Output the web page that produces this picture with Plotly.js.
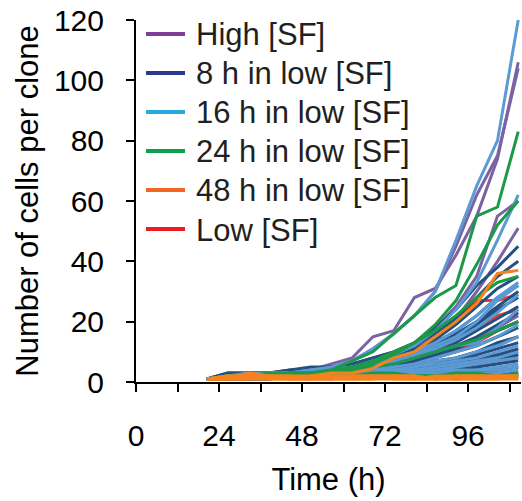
<!DOCTYPE html>
<html>
<head>
<meta charset="utf-8">
<script src="https://cdn.plot.ly/plotly-3.0.1.min.js"></script>
<style>html,body{margin:0;padding:0;background:#fff;}#chart{width:522px;height:501px;}</style>
</head>
<body>
<div id="chart"></div>
<script>
// Time points (h)
const times = [20.5, 26.5, 32.5, 38.5, 44.5, 50.5, 56.5, 62.5, 68.5, 74.5, 80.5, 86.5, 92.5, 98.5, 104.5, 110.5];

// Number of cells per clone, one row per clone
const highSF = [
  [1,2,2,3,3,4,6,8,15,17,28,31,42,55,74,106],
  [1,2,2,2,3,4,5,7,11,16,22,30,45,62,75,104],
  [1,2,2,3,3,4,5,6,8,10,13,18,25,35,55,60],
  [1,1,2,2,3,3,4,5,6,8,11,15,21,30,40,51],
  [1,2,2,2,3,3,4,5,6,7,8,10,12,14,18,22],
  [1,1,1,2,2,2,3,3,4,4,5,6,7,8,9,10],
  [1,2,2,2,2,3,3,3,4,4,5,5,6,7,8,9]
];
const low8h = [
  [1,3,3,3,4,5,5,6,8,10,13,18,24,32,38,45],
  [1,2,3,3,3,4,5,6,7,9,12,16,21,28,35,40],
  [1,2,2,3,3,4,4,5,7,9,11,14,19,25,31,35],
  [1,3,3,3,4,4,5,5,6,8,10,13,17,22,28,32],
  [1,2,2,2,3,3,4,5,6,7,9,12,16,20,25,30],
  [1,2,2,3,3,3,4,4,5,7,9,11,15,19,24,28],
  [1,2,2,2,3,3,3,4,5,6,8,10,13,17,21,25],
  [1,2,2,2,2,3,3,4,4,5,7,9,12,15,19,23],
  [1,2,3,3,3,3,4,4,5,6,7,9,11,14,17,20],
  [1,1,2,2,2,3,3,3,4,5,6,8,10,12,15,18],
  [1,2,2,2,2,2,3,3,4,4,5,7,8,10,13,15],
  [1,2,2,2,3,3,3,3,4,4,5,6,7,9,11,13],
  [1,1,2,2,2,2,3,3,3,4,4,5,6,8,9,11],
  [1,2,2,2,2,2,2,3,3,3,4,4,5,6,7,9],
  [1,1,1,2,2,2,2,2,3,3,3,4,4,5,6,7],
  [1,2,2,2,2,2,2,2,2,3,3,3,3,4,4,5],
  [1,1,1,1,2,2,2,2,2,2,2,3,3,3,3,3],
  [1,2,2,2,2,2,2,2,2,2,2,2,2,2,2,2]
];
const low16h = [
  [1,2,2,3,3,4,5,7,11,16,22,30,47,65,80,120],
  [1,2,2,2,3,3,4,5,7,9,12,17,24,33,47,62],
  [1,2,3,3,3,4,4,5,6,8,10,13,17,22,28,33],
  [1,2,2,3,3,3,4,5,6,7,9,12,15,20,27,32],
  [1,2,2,2,3,3,3,4,5,7,9,11,14,18,23,29],
  [1,2,2,2,2,3,3,4,5,6,8,10,12,13,18,24],
  [1,2,2,2,3,3,3,3,4,5,6,8,10,12,15,19],
  [1,1,2,2,2,2,3,3,4,4,5,7,8,10,12,15],
  [1,2,2,2,2,3,3,3,3,4,5,6,7,8,10,12],
  [1,2,2,2,2,2,3,3,3,4,4,5,6,7,8,10],
  [1,1,2,2,2,2,2,3,3,3,4,4,5,6,7,8],
  [1,2,2,2,2,2,2,2,3,3,3,4,4,4,5,6],
  [1,1,1,2,2,2,2,2,2,3,3,3,3,4,4,5],
  [1,2,2,2,2,2,2,2,2,2,3,3,3,3,3,4]
];
const low24h = [
  [1,2,2,2,3,3,4,7,10,16,22,28,32,55,58,83],
  [1,2,2,2,2,3,3,4,6,9,13,19,27,39,52,60],
  [1,2,2,3,3,3,4,5,7,10,13,17,22,28,33,35],
  [1,2,2,2,3,3,3,4,5,6,8,10,12,14,17,20],
  [1,2,2,2,2,2,2,2,3,3,2,2,3,3,2,3],
  [1,2,2,2,2,2,2,2,2,2,2,2,2,2,2,2],
  [1,1,2,2,2,2,1,2,2,2,2,2,1,2,2,2]
];
const low48h = [
  [1,2,2,2,2,2,3,3,4.5,8,10,15,20,26,36,37],
  [1,1,3,2,1,1,1,2,2,2,2,1,2,2,2,2],
  [1,1,1,1,1,1,1,1,1,1,1,1,1,1,1,1],
  [1,2,2,1,1,2,2,1,1,2,2,1,2,1,1,2],
  [1,1,2,2,2,1,2,2,2,1,1,2,2,2,2,1],
  [1,1,1,2,1,1,1,1,2,2,1,1,1,1,2,2]
];
const lowSF = [
  [1,2,2,2,2,3,3,4,5,7,10,14,20,27,27,29],
  [1,1,2,2,2,2,3,3,4,5,7,10,14,18,22,24],
  [1,2,2,2,2,2,3,3,4,5,6,8,11,13,17,20],
  [1,1,1,2,2,2,2,3,3,4,5,6,8,10,12,15],
  [1,2,2,2,2,2,2,3,3,3,4,5,6,7,9,11],
  [1,1,2,2,2,2,2,2,3,3,3,4,4,5,6,8],
  [1,1,1,1,2,2,2,2,2,2,3,3,3,4,4,5]
];

const groupNames = ["High [SF]", "8 h in low [SF]", "16 h in low [SF]", "24 h in low [SF]", "48 h in low [SF]", "Low [SF]"];
const xTickVals = [0,12,24,36,48,60,72,84,96,108];
const xTickText = ["0","","24","","48","","72","","96",""];
const yTickVals = [0,20,40,60,80,100,120];

// styles
const groups = [highSF, low8h, low16h, low24h, low48h, lowSF];
const lineColors = ["#7b62a3", "#24507f", "#5b9bd5", "#1a9a48", "#f5821f", "#ee3a2a"];
const legendColors = ["#7f3f98", "#2b3990", "#27aae1", "#0ea04b", "#f26522", "#ed1c24"];
const drawOrder = [5, 0, 1, 2, 3, 4];

const W = 522, H = 501;
const M = {l: 136, r: 1, t: 20, b: 119};
const plotW = W - M.l - M.r, plotH = H - M.t - M.b;
const px2paperX = p => (p - M.l) / plotW;
const px2paperY = p => (H - M.b - p) / plotH;

const traces = [];
drawOrder.forEach(gi => {
  groups[gi].forEach(row => {
    traces.push({x: times, y: row, type: 'scatter', mode: 'lines',
      line: {color: lineColors[gi], width: 3}, showlegend: false, hoverinfo: 'skip'});
  });
});

const font = "Liberation Sans, Arial, sans-serif";

// legend drawn as line keys + labels
const shapes = [], annotations = [];
groupNames.forEach((name, gi) => {
  const yc = 34 + 39 * gi;
  shapes.push({type: 'line', xref: 'paper', yref: 'paper',
    x0: px2paperX(146), x1: px2paperX(185), y0: px2paperY(yc), y1: px2paperY(yc),
    line: {color: legendColors[gi], width: 4}});
  annotations.push({xref: 'paper', yref: 'paper', x: px2paperX(194), y: px2paperY(yc + 1),
    xanchor: 'left', yanchor: 'middle', text: name, showarrow: false,
    font: {family: font, size: 31, color: '#231f20'}});
});

const layout = {
  width: W, height: H,
  margin: {l: M.l, r: M.r, t: M.t, b: M.b, pad: 0},
  paper_bgcolor: '#fff', plot_bgcolor: '#fff',
  font: {family: font, color: '#000'},
  showlegend: false,
  shapes: shapes, annotations: annotations,
  xaxis: {range: [0, 111.3], tickvals: xTickVals, ticktext: xTickText,
    ticks: 'outside', ticklen: 8, tickwidth: 2, tickcolor: '#000',
    showline: true, linewidth: 2, linecolor: '#000', showgrid: false, zeroline: false,
    tickfont: {family: font, size: 30, color: '#000'}, ticklabelstandoff: 18,
    title: {text: 'Time (h)', font: {family: font, size: 31, color: '#000'}, standoff: 17}},
  yaxis: {range: [0, 120], tickvals: yTickVals,
    ticks: 'outside', ticklen: 8, tickwidth: 2, tickcolor: '#000',
    showline: true, linewidth: 2, linecolor: '#000', showgrid: false, zeroline: false,
    tickfont: {family: font, size: 30, color: '#000'}, ticklabelstandoff: 16,
    title: {text: 'Number of cells per clone', font: {family: font, size: 31, color: '#000'}, standoff: 6}}
};

Plotly.newPlot('chart', traces, layout, {staticPlot: true, displayModeBar: false});
</script>
</body>
</html>
